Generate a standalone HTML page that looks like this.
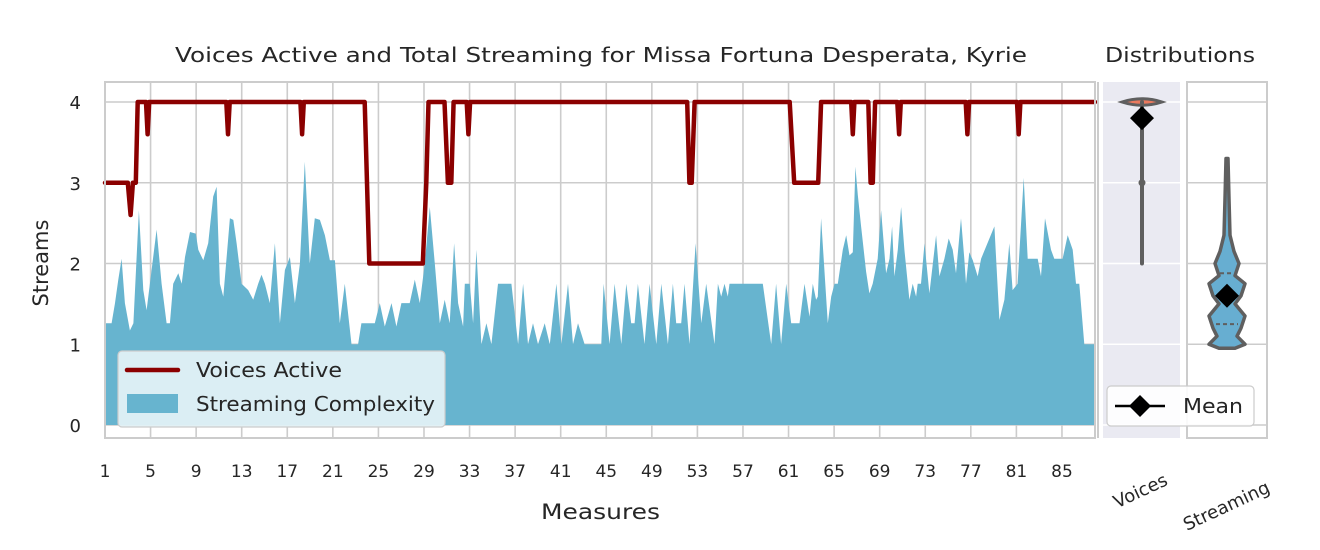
<!DOCTYPE html>
<html><head><meta charset="utf-8"><style>
html,body{margin:0;padding:0;background:#fff;}
svg{display:block;font-family:"DejaVu Sans","Liberation Sans",sans-serif;}
</style></head><body>
<svg id="chart" width="1320" height="550">
<g id="main"></g>
<g id="dist"></g>
</svg>
<script>
const streamX=[1.0,1.58,1.88,2.17,2.46,2.75,3.19,3.49,3.98,4.36,4.65,5.09,5.53,5.97,6.41,6.70,6.99,7.43,7.73,8.02,8.46,8.97,9.19,9.63,10.06,10.5,10.8,11.09,11.38,11.96,12.26,12.55,12.99,13.57,14.01,14.45,14.74,15.04,15.47,15.91,16.35,16.79,17.23,17.67,18.11,18.54,18.98,19.42,19.86,20.3,20.74,21.18,21.61,22.05,22.64,23.22,23.51,24.68,25.12,25.56,26.15,26.58,27.02,27.32,27.75,28.19,28.63,29.07,29.51,29.95,30.39,30.82,31.26,31.64,31.99,32.43,32.58,33.02,33.31,33.6,34.04,34.48,34.92,35.5,35.94,36.23,36.67,37.26,37.7,38.13,38.57,39.01,39.6,40.04,40.62,41.06,41.64,42.08,42.52,43.1,43.54,44.56,44.77,45.29,45.73,46.32,46.76,47.19,47.49,47.78,48.36,48.8,49.39,49.83,50.41,50.85,51.14,51.58,51.87,52.31,52.84,53.34,53.77,54.5,54.8,55.09,55.38,55.67,55.82,56.26,56.84,57.28,57.87,58.3,58.74,59.48,59.91,60.35,60.79,61.23,61.96,62.4,62.84,63.13,63.42,63.57,63.86,64.45,64.74,65.03,65.32,65.76,66.06,66.35,66.64,66.87,67.08,67.37,67.81,68.1,68.39,68.83,69.12,69.56,69.86,70.09,70.29,70.59,70.88,71.17,71.61,71.9,72.2,72.34,72.63,72.93,73.36,73.95,74.24,74.68,75.06,75.41,75.7,76.14,76.43,76.58,76.87,77.17,77.6,77.9,79.07,79.51,79.95,80.38,80.67,81.11,81.64,81.99,82.87,83.16,83.51,84.04,84.33,85.06,85.5,85.94,86.23,86.52,86.96,87.9];
const streamY=[1.26,1.26,1.51,1.80,2.06,1.51,1.17,1.26,2.66,1.67,1.42,1.92,2.42,1.75,1.26,1.26,1.75,1.88,1.75,2.08,2.39,2.37,2.17,2.04,2.25,2.83,2.95,1.75,1.59,2.56,2.54,2.25,1.75,1.67,1.55,1.75,1.86,1.75,1.51,2.25,1.26,1.92,2.08,1.51,2.0,3.26,2.0,2.56,2.54,2.35,2.04,2.04,1.26,1.75,1.0,1.0,1.26,1.26,1.51,1.22,1.51,1.22,1.51,1.51,1.51,1.80,1.51,2.0,2.70,2.0,1.26,1.55,1.26,2.25,1.51,1.22,1.75,1.75,1.26,2.17,1.0,1.26,1.0,1.75,1.75,1.75,1.75,1.0,1.75,1.0,1.26,1.0,1.26,1.0,1.75,1.0,1.75,1.0,1.26,1.0,1.0,1.0,1.75,1.0,1.75,1.0,1.75,1.26,1.26,1.75,1.0,1.75,1.0,1.75,1.0,1.75,1.26,1.26,1.75,1.0,2.25,1.26,1.75,1.0,1.75,1.59,1.75,1.59,1.75,1.75,1.75,1.75,1.75,1.75,1.75,1.0,1.75,1.0,1.75,1.26,1.26,1.75,1.34,1.75,1.55,1.59,2.56,1.26,1.59,1.75,1.75,2.17,2.35,2.1,2.14,3.2,2.85,2.46,1.90,1.63,1.75,2.06,2.66,1.88,2.06,2.46,1.84,2.17,2.70,2.17,1.55,1.75,1.59,1.75,1.75,2.25,1.63,2.35,1.84,2.06,2.31,2.17,1.88,2.56,2.06,1.75,2.14,2.04,1.84,2.06,2.46,1.30,1.55,2.25,1.67,1.75,3.06,2.06,2.06,1.84,2.56,2.17,2.06,2.06,2.35,2.17,1.75,1.75,1.0,1.0];
const voiceX=[1,3.0,3.25,3.45,3.7,3.87,4.6,4.74,4.88,11.65,11.8,11.95,18.15,18.3,18.45,23.8,24.2,28.9,29.2,29.4,30.8,31.1,31.4,31.6,32.75,32.9,33.05,52.1,52.3,52.5,52.75,61.1,61.5,63.6,63.86,66.5,66.64,66.78,68.0,68.2,68.4,68.6,70.55,70.7,70.85,76.55,76.7,76.85,81.05,81.2,81.35,87.9];
const voiceY=[3,3,2.6,3,3,4,4,3.6,4,4,3.6,4,4,3.6,4,4,2,2,3,4,4,3,3,4,4,3.6,4,4,3,3,4,4,3,3,4,4,3.6,4,4,3,3,4,4,3.6,4,4,3.6,4,4,3.6,4,4];
const xTicks=[1,5,9,13,17,21,25,29,33,37,41,45,49,53,57,61,65,69,73,77,81,85];
const yTicks=[0,1,2,3,4];
const voicesMean=[3.8];
const streamMean=[1.6];

const NS="http://www.w3.org/2000/svg";
function mk(parent,tag,attrs,text){const e=document.createElementNS(NS,tag);for(const k in attrs)e.setAttribute(k,attrs[k]);if(text!==undefined)e.textContent=text;parent.appendChild(e);return e;}
const X0=105,X1=1095,YT=82,YB=438;
const xs=m=>X0+(m-1)*(X1-X0)/(87.9-1);
const ys=v=>425-v*80.75;
const main=document.getElementById('main'),dist=document.getElementById('dist');

for(const t of xTicks){const l=mk(main,'line',{x1:xs(t),x2:xs(t),y1:YT,y2:YB,stroke:'#cccccc','stroke-width':1.6});


const tx=mk(main,'text',{x:xs(t),y:477,'text-anchor':'middle','font-size':17,fill:'#262626'},t);

}
for(const t of yTicks){const l=mk(main,'line',{x1:X0,x2:X1,y1:ys(t),y2:ys(t),stroke:'#cccccc','stroke-width':1.6});


const tx=mk(main,'text',{x:81,y:ys(t)+7,'text-anchor':'end','font-size':18,fill:'#262626'},t);

}

let d='M'+xs(streamX[0])+','+ys(0);
for(let i=0;i<streamX.length;i++)d+=' L'+xs(streamX[i]).toFixed(1)+','+ys(streamY[i]).toFixed(1);
d+=' L'+xs(streamX[streamX.length-1])+','+ys(0)+' Z';
const area=mk(main,'path',{d:d,fill:'#67b4cf'});



let pd='';
for(let i=0;i<voiceX.length;i++)pd+=(i?' L':'M')+xs(voiceX[i]).toFixed(1)+','+ys(voiceY[i]).toFixed(1);
const vl=mk(main,'path',{d:pd,fill:'none',stroke:'#8b0000','stroke-width':4.5,'stroke-linejoin':'round','stroke-linecap':'round'});



const fr=mk(main,'rect',{x:X0,y:YT,width:X1-X0,height:YB-YT,fill:'none',stroke:'#cccccc','stroke-width':2});



const lg=mk(main,'g',{});


mk(lg,'rect',{x:118,y:351,width:327,height:76,rx:4,fill:'#e2f1f6','fill-opacity':0.95,stroke:'#cccccc','stroke-width':1.2});
mk(lg,'line',{x1:127,x2:178,y1:370,y2:370,stroke:'#8b0000','stroke-width':4.5,'stroke-linecap':'round'});
mk(lg,'text',{x:196,y:377,'font-size':20,fill:'#262626',textLength:146,lengthAdjust:'spacingAndGlyphs'},'Voices Active');
mk(lg,'rect',{x:127,y:394,width:51,height:19,fill:'#67b4cf'});
mk(lg,'text',{x:196,y:411,'font-size':20,fill:'#262626',textLength:239,lengthAdjust:'spacingAndGlyphs'},'Streaming Complexity');

const t1=mk(main,'text',{x:175,y:62,'font-size':20,fill:'#262626',textLength:852,lengthAdjust:'spacingAndGlyphs'},'Voices Active and Total Streaming for Missa Fortuna Desperata, Kyrie');


const xl=mk(main,'text',{x:541,y:519,'font-size':21,fill:'#262626',textLength:119,lengthAdjust:'spacingAndGlyphs'},'Measures');


const yl=mk(main,'text',{x:48,y:263,'text-anchor':'middle','font-size':21,fill:'#262626',transform:'rotate(-90 48 263)'},'Streams');



const dt=mk(dist,'text',{x:1105,y:62,'font-size':20,fill:'#262626',textLength:150,lengthAdjust:'spacingAndGlyphs'},'Distributions');


const p1=mk(dist,'rect',{x:1103,y:YT,width:77,height:YB-YT,fill:'#eaeaf2'});


for(const t of yTicks){mk(dist,'line',{x1:1103,x2:1180,y1:ys(t),y2:ys(t),stroke:'#ffffff','stroke-width':1.6});
mk(dist,'line',{x1:1187,x2:1267,y1:ys(t),y2:ys(t),stroke:'#cccccc','stroke-width':1.6});}
mk(dist,'rect',{x:1187,y:YT,width:80,height:YB-YT,fill:'none',stroke:'#cccccc','stroke-width':2});
mk(dist,'line',{x1:1098,x2:1098,y1:YT,y2:YB,stroke:'#cccccc','stroke-width':2});

const vv=mk(dist,'g',{});


mk(vv,'path',{d:`M1122,${ys(4)} Q1142,${ys(4.08)} 1162,${ys(4)} Q1142,${ys(3.92)} 1122,${ys(4)} Z`,fill:'#ea7a5f',stroke:'#5f5f5f','stroke-width':3});
mk(vv,'line',{x1:1142,x2:1142,y1:ys(4),y2:ys(2),stroke:'#5f5f5f','stroke-width':4,'stroke-linecap':'round'});
mk(vv,'circle',{cx:1142,cy:ys(3),r:3.5,fill:'#5f5f5f'});
const m1=mk(dist,'path',{d:`M1142,${ys(voicesMean[0])-12} L1154,${ys(voicesMean[0])} L1142,${ys(voicesMean[0])+12} L1130,${ys(voicesMean[0])} Z`,fill:'#000'});



const sv=mk(dist,'g',{});


const prof=[[3.3,1],[2.8,2],[2.35,3],[2.15,7],[2.0,12],[1.85,8],[1.75,18],[1.6,14],[1.5,8],[1.35,18],[1.2,14],[1.1,10],[1.0,18],[0.95,8]];
let vp='M1227,'+ys(3.3);
for(const p of prof)vp+=' L'+(1227+p[1])+','+ys(p[0]);
for(let i=prof.length-1;i>=0;i--)vp+=' L'+(1227-prof[i][1])+','+ys(prof[i][0]);
vp+=' Z';
mk(sv,'path',{d:vp,fill:'#67aed1',stroke:'#5f5f5f','stroke-width':3.5,'stroke-linejoin':'round'});
mk(sv,'line',{x1:1220,x2:1234,y1:ys(1.88),y2:ys(1.88),stroke:'#5f5f5f','stroke-width':2,'stroke-dasharray':'4,3'});
mk(sv,'line',{x1:1216,x2:1238,y1:ys(1.25),y2:ys(1.25),stroke:'#5f5f5f','stroke-width':2,'stroke-dasharray':'4,3'});
const m2=mk(dist,'path',{d:`M1227,${ys(streamMean[0])-12} L1239,${ys(streamMean[0])} L1227,${ys(streamMean[0])+12} L1215,${ys(streamMean[0])} Z`,fill:'#000'});



const ml=mk(dist,'g',{});


mk(ml,'rect',{x:1107,y:386,width:147,height:40,rx:4,fill:'#ffffff','fill-opacity':0.9,stroke:'#cccccc','stroke-width':1.2});
mk(ml,'line',{x1:1115,x2:1165,y1:406,y2:406,stroke:'#000','stroke-width':2.5});
mk(ml,'path',{d:'M1140,395 L1151,406 L1140,417 L1129,406 Z',fill:'#000'});
mk(ml,'text',{x:1183,y:413,'font-size':20,fill:'#262626',textLength:60,lengthAdjust:'spacingAndGlyphs'},'Mean');

const c1=mk(dist,'text',{x:1140,y:497,'text-anchor':'middle','font-size':18,fill:'#262626',transform:'rotate(-25 1140 490)'},'Voices');


const c2=mk(dist,'text',{x:1226,y:512,'text-anchor':'middle','font-size':18,fill:'#262626',transform:'rotate(-25 1226 505)'},'Streaming');


</script>
</body></html>
